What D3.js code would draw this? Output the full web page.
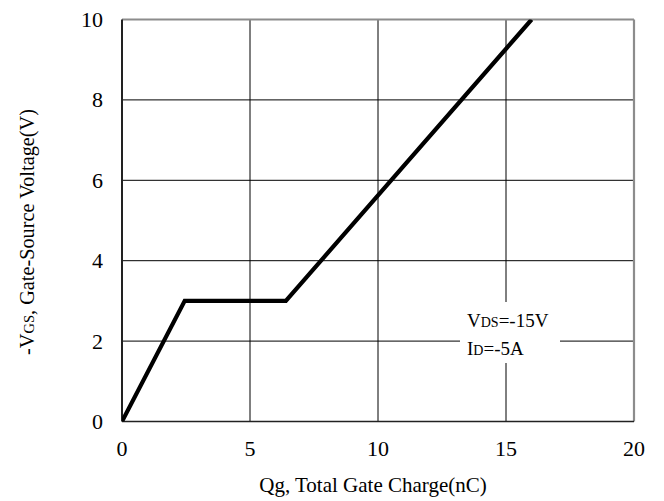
<!DOCTYPE html>
<html>
<head>
<meta charset="utf-8">
<script src="https://cdn.jsdelivr.net/npm/d3@7/dist/d3.min.js"></script>
<style>
  html, body { margin: 0; padding: 0; background: #fff; }
  svg text { font-family: "Liberation Serif", "Times New Roman", serif; fill: #000; }
</style>
</head>
<body>
<svg id="chart" width="664" height="501"></svg>
<script>
// Gate charge curve: Qg (nC) vs -VGS (V)
const qg  = [0, 2.45, 6.4, 16.0];
const vgs = [0, 3.0, 3.0, 10.0];
const xTicks = [0, 5, 10, 15, 20];
const yTicks = [0, 2, 4, 6, 8, 10];

const margin = { left: 122, right: 30, top: 19.5, bottom: 79.5 };
const W = 664, H = 501;
const svg = d3.select("#chart");

const x = d3.scaleLinear().domain([0, 20]).range([margin.left, W - margin.right]);
const y = d3.scaleLinear().domain([0, 10]).range([H - margin.bottom, margin.top]);

// grid
const grid = svg.append("g");
grid.selectAll("line.v").data(xTicks.slice(1, -1)).join("line")
  .attr("x1", d => x(d)).attr("x2", d => x(d))
  .attr("y1", y(0)).attr("y2", y(10))
  .attr("stroke", "#000").attr("stroke-width", 1);
grid.selectAll("line.h").data(yTicks.slice(1, -1)).join("line")
  .attr("x1", x(0)).attr("x2", x(20))
  .attr("y1", d => y(d)).attr("y2", d => y(d))
  .attr("stroke", "#000").attr("stroke-width", 1);

// frame: top and right drawn lighter
svg.append("line").attr("x1", x(0)).attr("x2", x(20)).attr("y1", y(10)).attr("y2", y(10))
  .attr("stroke", "#8c8c8c").attr("stroke-width", 2.2);
svg.append("line").attr("x1", x(20)).attr("x2", x(20)).attr("y1", y(10)).attr("y2", y(0))
  .attr("stroke", "#8c8c8c").attr("stroke-width", 2.2);
svg.append("line").attr("x1", x(0)).attr("x2", x(20)).attr("y1", y(0)).attr("y2", y(0))
  .attr("stroke", "#222").attr("stroke-width", 1.6);
svg.append("line").attr("x1", x(0)).attr("x2", x(0)).attr("y1", y(10)).attr("y2", y(0))
  .attr("stroke", "#222").attr("stroke-width", 2);

// curve
svg.append("defs").append("clipPath").attr("id", "plot")
  .append("rect").attr("x", x(0)).attr("y", y(10))
  .attr("width", x(20) - x(0)).attr("height", y(0) - y(10));
const line = d3.line().x((d, i) => x(qg[i])).y((d, i) => y(vgs[i]));
svg.append("path").datum(qg).attr("d", line)
  .attr("clip-path", "url(#plot)")
  .attr("fill", "none").attr("stroke", "#000").attr("stroke-width", 4.2)
  .attr("stroke-linejoin", "miter");

// test condition box
svg.append("rect").attr("x", 460).attr("y", 302).attr("width", 100).attr("height", 61).attr("fill", "#fff");
const t1 = svg.append("text").attr("x", 467).attr("y", 327).attr("font-size", 19);
t1.append("tspan").text("V");
t1.append("tspan").attr("font-size", 14).text("DS");
t1.append("tspan").text("=-15V");
const t2 = svg.append("text").attr("x", 467).attr("y", 355).attr("font-size", 19);
t2.append("tspan").text("I");
t2.append("tspan").attr("font-size", 14).text("D");
t2.append("tspan").text("=-5A");

// tick labels
svg.append("g").selectAll("text").data(xTicks).join("text")
  .attr("x", d => x(d)).attr("y", 456).attr("text-anchor", "middle")
  .attr("font-size", 22).text(d => d);
svg.append("g").selectAll("text").data(yTicks).join("text")
  .attr("x", 103).attr("y", d => y(d) + 7.5).attr("text-anchor", "end")
  .attr("font-size", 22).text(d => d);

// axis titles
svg.append("text").attr("x", x(10) - 5).attr("y", 492).attr("text-anchor", "middle")
  .attr("font-size", 21).text("Qg, Total Gate Charge(nC)");
const yt = svg.append("text").attr("transform", "translate(34,232) rotate(-90)")
  .attr("text-anchor", "middle").attr("font-size", 20.3);
yt.append("tspan").text("-V");
yt.append("tspan").attr("font-size", 14.5).text("GS");
yt.append("tspan").text(", Gate-Source Voltage(V)");
</script>
</body>
</html>
